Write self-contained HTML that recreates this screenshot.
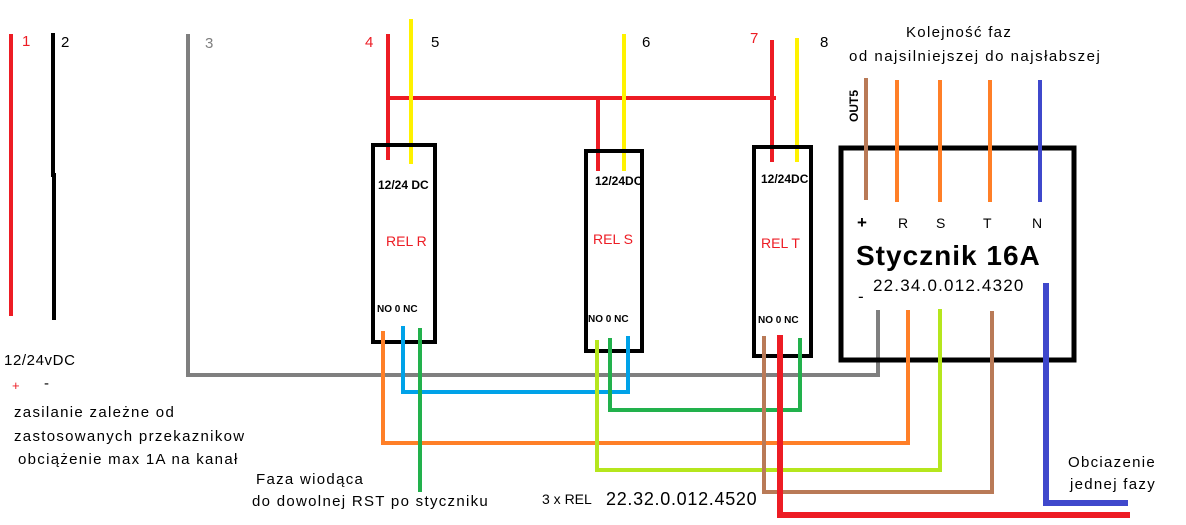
<!DOCTYPE html>
<html><head><meta charset="utf-8"><style>
html,body{margin:0;padding:0;background:#fff;}
svg{display:block;font-family:"Liberation Sans",sans-serif;}
</style></head><body>
<svg width="1186" height="525" viewBox="0 0 1186 525" xmlns="http://www.w3.org/2000/svg">
<rect width="1186" height="525" fill="#fff"/>
<g fill="none" stroke-linecap="square">
<line x1="11" y1="36" x2="11" y2="314" stroke="#ed1c24" stroke-width="4"/>
<polyline points="53,35 53,175 54,175 54,318" stroke="#000" stroke-width="4"/>
<polyline points="188,36 188,375 878,375 878,312" stroke="#7f7f7f" stroke-width="4"/>
<polyline points="388,36 388,158" stroke="#ed1c24" stroke-width="4"/>
<line x1="388" y1="98" x2="774" y2="98" stroke="#ed1c24" stroke-width="4"/>
<line x1="598" y1="98" x2="598" y2="169" stroke="#ed1c24" stroke-width="4"/>
<line x1="772" y1="42" x2="772" y2="160" stroke="#ed1c24" stroke-width="4"/>
<line x1="411" y1="21" x2="411" y2="162" stroke="#fff200" stroke-width="4"/>
<line x1="624" y1="36" x2="624" y2="169" stroke="#fff200" stroke-width="4"/>
<line x1="797" y1="40" x2="797" y2="160" stroke="#fff200" stroke-width="4"/>
<rect x="373" y="145" width="62" height="197" stroke="#000" stroke-width="4"/>
<rect x="586" y="151" width="56" height="200" stroke="#000" stroke-width="4"/>
<rect x="754" y="147" width="57" height="209" stroke="#000" stroke-width="4"/>
<rect x="841" y="148" width="233" height="212" stroke="#000" stroke-width="5"/>
<polyline points="383,333 383,443 908,443 908,312" stroke="#ff7f27" stroke-width="4"/>
<polyline points="403,328 403,392 628,392 628,338" stroke="#00a2e8" stroke-width="4"/>
<line x1="420" y1="330" x2="420" y2="490" stroke="#22b14c" stroke-width="4"/>
<polyline points="597,342 597,470 940,470 940,311" stroke="#b5e61d" stroke-width="4"/>
<polyline points="610,340 610,410 800,410 800,340" stroke="#22b14c" stroke-width="4"/>
<polyline points="764,338 764,492 992,492 992,313" stroke="#b97a57" stroke-width="4"/>
<polyline points="780,338 780,515 1127,515" stroke="#ed1c24" stroke-width="6"/>
<line x1="866" y1="80" x2="866" y2="198" stroke="#b97a57" stroke-width="4"/>
<line x1="897" y1="82" x2="897" y2="200" stroke="#ff7f27" stroke-width="4"/>
<line x1="940" y1="82" x2="940" y2="200" stroke="#ff7f27" stroke-width="4"/>
<line x1="990" y1="82" x2="990" y2="200" stroke="#ff7f27" stroke-width="4"/>
<line x1="1040" y1="82" x2="1040" y2="200" stroke="#3f48cc" stroke-width="4"/>
<polyline points="1046,286 1046,503 1125,503" stroke="#3f48cc" stroke-width="6"/>
</g>
<g font-size="15">
<text x="22" y="46" fill="#ed1c24">1</text>
<text x="61" y="47">2</text>
<text x="205" y="48" fill="#7f7f7f">3</text>
<text x="365" y="47" fill="#ed1c24">4</text>
<text x="431" y="47">5</text>
<text x="642" y="47">6</text>
<text x="750" y="43" fill="#ed1c24">7</text>
<text x="820" y="47">8</text>
</g>
<g font-size="15" letter-spacing="1.3">
<text x="906" y="37">Kolejność faz</text>
<text x="849" y="61" letter-spacing="1.5">od najsilniejszej do najsłabszej</text>
<text x="4" y="365" letter-spacing="0.6">12/24vDC</text>
<text x="14" y="417">zasilanie zależne od</text>
<text x="14" y="441">zastosowanych przekaznikow</text>
<text x="18" y="464">obciążenie max 1A na kanał</text>
<text x="256" y="484">Faza wiodąca</text>
<text x="252" y="506">do dowolnej RST po styczniku</text>
<text x="1068" y="467">Obciazenie</text>
<text x="1070" y="489">jednej fazy</text>
</g>
<g font-size="15">
<text x="12" y="390" fill="#ed1c24" font-size="13">+</text>
<text x="44" y="388">-</text>
<text x="542" y="504" font-size="14">3 x REL</text>
<text x="606" y="505" font-size="18" letter-spacing="0.7">22.32.0.012.4520</text>
<text x="857" y="228" font-size="17" font-weight="bold">+</text>
<text x="898" y="228" font-size="14">R</text>
<text x="936" y="228" font-size="14">S</text>
<text x="983" y="228" font-size="14">T</text>
<text x="1032" y="228" font-size="14">N</text>
<text x="856" y="265" font-size="28" font-weight="bold" letter-spacing="1">Stycznik 16A</text>
<text x="873" y="291" font-size="17" letter-spacing="1.2">22.34.0.012.4320</text>
<text x="858" y="302" font-size="17">-</text>
<text x="858" y="122" font-size="12" font-weight="bold" transform="rotate(-90 858 122)">OUT5</text>
</g>
<g font-size="12" font-weight="bold">
<text x="378" y="189">12/24 DC</text>
<text x="595" y="185">12/24DC</text>
<text x="761" y="183">12/24DC</text>
</g>
<g font-size="14" fill="#ed1c24">
<text x="386" y="246">REL R</text>
<text x="593" y="244">REL S</text>
<text x="761" y="248">REL T</text>
</g>
<g font-size="10" font-weight="bold">
<text x="377" y="312">NO 0 NC</text>
<text x="588" y="322">NO 0 NC</text>
<text x="758" y="323">NO 0 NC</text>
</g>
</svg>
</body></html>
